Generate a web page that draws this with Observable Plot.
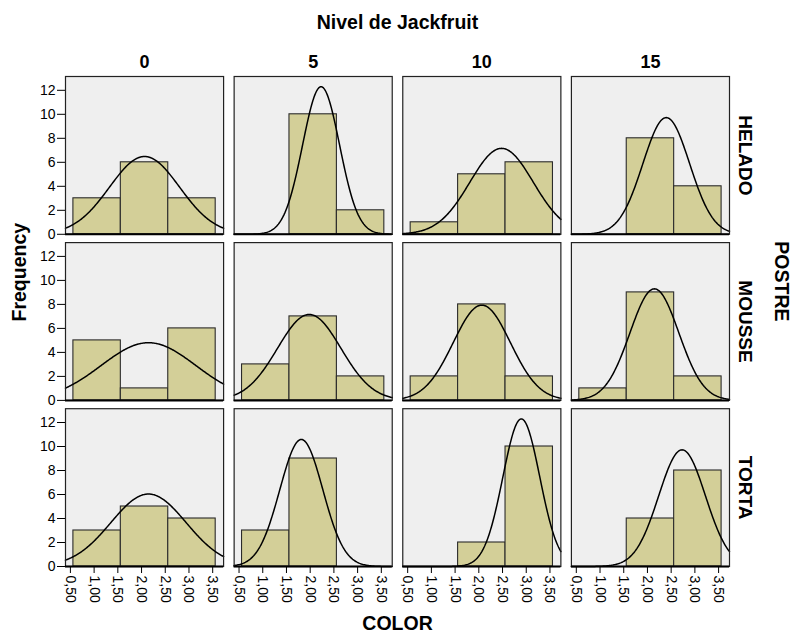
<!DOCTYPE html>
<html>
<head>
<meta charset="utf-8">
<script src="https://cdn.jsdelivr.net/npm/d3@7"></script>
<script src="https://cdn.jsdelivr.net/npm/@observablehq/plot@0.6"></script>
<style>
  html, body { margin: 0; padding: 0; background: #ffffff; }
  #chart svg { display: block; }
</style>
</head>
<body>
<div id="chart"></div>
<script>
// Column facets (Nivel de Jackfruit) and row facets (POSTRE)
const jackfruit = [0, 5, 10, 15];
const postre = ["HELADO", "MOUSSE", "TORTA"];
// COLOR bins: centres of the bins 0.5–1.5, 1.5–2.5, 2.5–3.5
const colorBins = [1, 2, 3];
const binWidth = 1;
// Frequencies per panel: one array per jackfruit level, one value per bin
const helado = [[3, 6, 3], [0, 10, 2], [1, 5, 6], [0, 8, 4]];
const mousse = [[5, 1, 6], [3, 7, 2], [2, 8, 2], [1, 9, 2]];
const torta  = [[3, 5, 4], [3, 9, 0], [0, 2, 10], [0, 4, 8]];
// Axis ticks
const xTicks = [0.5, 1, 1.5, 2, 2.5, 3, 3.5];
const yTicks = [0, 2, 4, 6, 8, 10, 12];
const xDomain = [1 / 3, 11 / 3];
const yDomain = [0, 13.15];

const rows = [helado, mousse, torta];

// Bars table
const bars = [];
postre.forEach((p, r) => rows[r].forEach((counts, c) => counts.forEach((n, b) => {
  if (n > 0) bars.push({postre: p, jack: jackfruit[c], x1: colorBins[b] - binWidth / 2, x2: colorBins[b] + binWidth / 2, count: n});
})));

// Fitted normal curve (SPSS style) from each panel's counts
const curve = [];
postre.forEach((p, r) => rows[r].forEach((counts, c) => {
  const n = d3.sum(counts);
  const mean = d3.sum(counts, (k, i) => k * colorBins[i]) / n;
  const sd = Math.sqrt(d3.sum(counts, (k, i) => k * (colorBins[i] - mean) ** 2) / (n - 1));
  const steps = 200;
  for (let i = 0; i <= steps; i++) {
    const x = xDomain[0] + (xDomain[1] - xDomain[0]) * i / steps;
    const y = n * binWidth * Math.exp(-0.5 * ((x - mean) / sd) ** 2) / (sd * Math.sqrt(2 * Math.PI));
    curve.push({postre: p, jack: jackfruit[c], x, y});
  }
}));

const font = "'Liberation Sans', Arial, Helvetica, sans-serif";
const fmt = d => d.toFixed(2).replace(".", ",");

const chart = Plot.plot({
  width: 793,
  height: 634,
  marginLeft: 65,
  marginRight: 64,
  marginTop: 76,
  marginBottom: 68,
  style: {fontFamily: font, fontSize: "14px", color: "#000", background: "#ffffff", overflow: "visible"},
  fx: {domain: jackfruit, paddingInner: 0.0625, paddingOuter: 0, round: false},
  fy: {domain: postre, paddingInner: 0.05, paddingOuter: 0, round: false},
  x: {domain: xDomain},
  y: {domain: yDomain},
  marks: [
    Plot.frame({fill: "#efefef", stroke: "none"}),
    Plot.rectY(bars, {x1: "x1", x2: "x2", y: "count", fx: "jack", fy: "postre", fill: "#d3cf98", stroke: "#2b2b2b", strokeWidth: 1.1}),
    Plot.line(curve, {x: "x", y: "y", fx: "jack", fy: "postre", stroke: "#000", strokeWidth: 1.5}),
    Plot.frame({stroke: "#222", strokeWidth: 1.2}),
    Plot.ruleY([0], {stroke: "#000", strokeWidth: 2}),
    Plot.axisY({ticks: yTicks, anchor: "left", facetAnchor: "left", tickSize: 8, tickPadding: 2, fontSize: 14, label: null}),
    Plot.axisX({ticks: xTicks, anchor: "bottom", facetAnchor: "bottom", tickSize: 7, tickPadding: 2, tickRotate: 90, tickFormat: fmt, fontSize: 14, dx: -3, label: null}),
    Plot.axisFx({anchor: "top", tickSize: 0, tickPadding: 9, fontSize: 18, fontWeight: "bold", label: null}),
    Plot.axisFy({anchor: "right", tickSize: 0, tickPadding: 9, tickRotate: 90, lineAnchor: "bottom", textAnchor: "middle", fontSize: 19, fontWeight: "bold", label: null}),
    Plot.text(["Nivel de Jackfruit"], {facet: "super", text: d => d, frameAnchor: "top", lineAnchor: "top", dy: -61, fontSize: 19.5, fontWeight: "bold"}),
    Plot.text(["COLOR"], {facet: "super", text: d => d, frameAnchor: "bottom", lineAnchor: "bottom", dy: 63, fontSize: 19.5, fontWeight: "bold"}),
    Plot.text(["Frequency"], {facet: "super", text: d => d, frameAnchor: "left", rotate: -90, lineAnchor: "bottom", dx: -39.5, fontSize: 19.5, fontWeight: "bold"}),
    Plot.text(["POSTRE"], {facet: "super", text: d => d, frameAnchor: "right", rotate: 90, lineAnchor: "bottom", dx: 45, fontSize: 19.5, fontWeight: "bold"})
  ]
});
document.getElementById("chart").appendChild(chart);
</script>
</body>
</html>
